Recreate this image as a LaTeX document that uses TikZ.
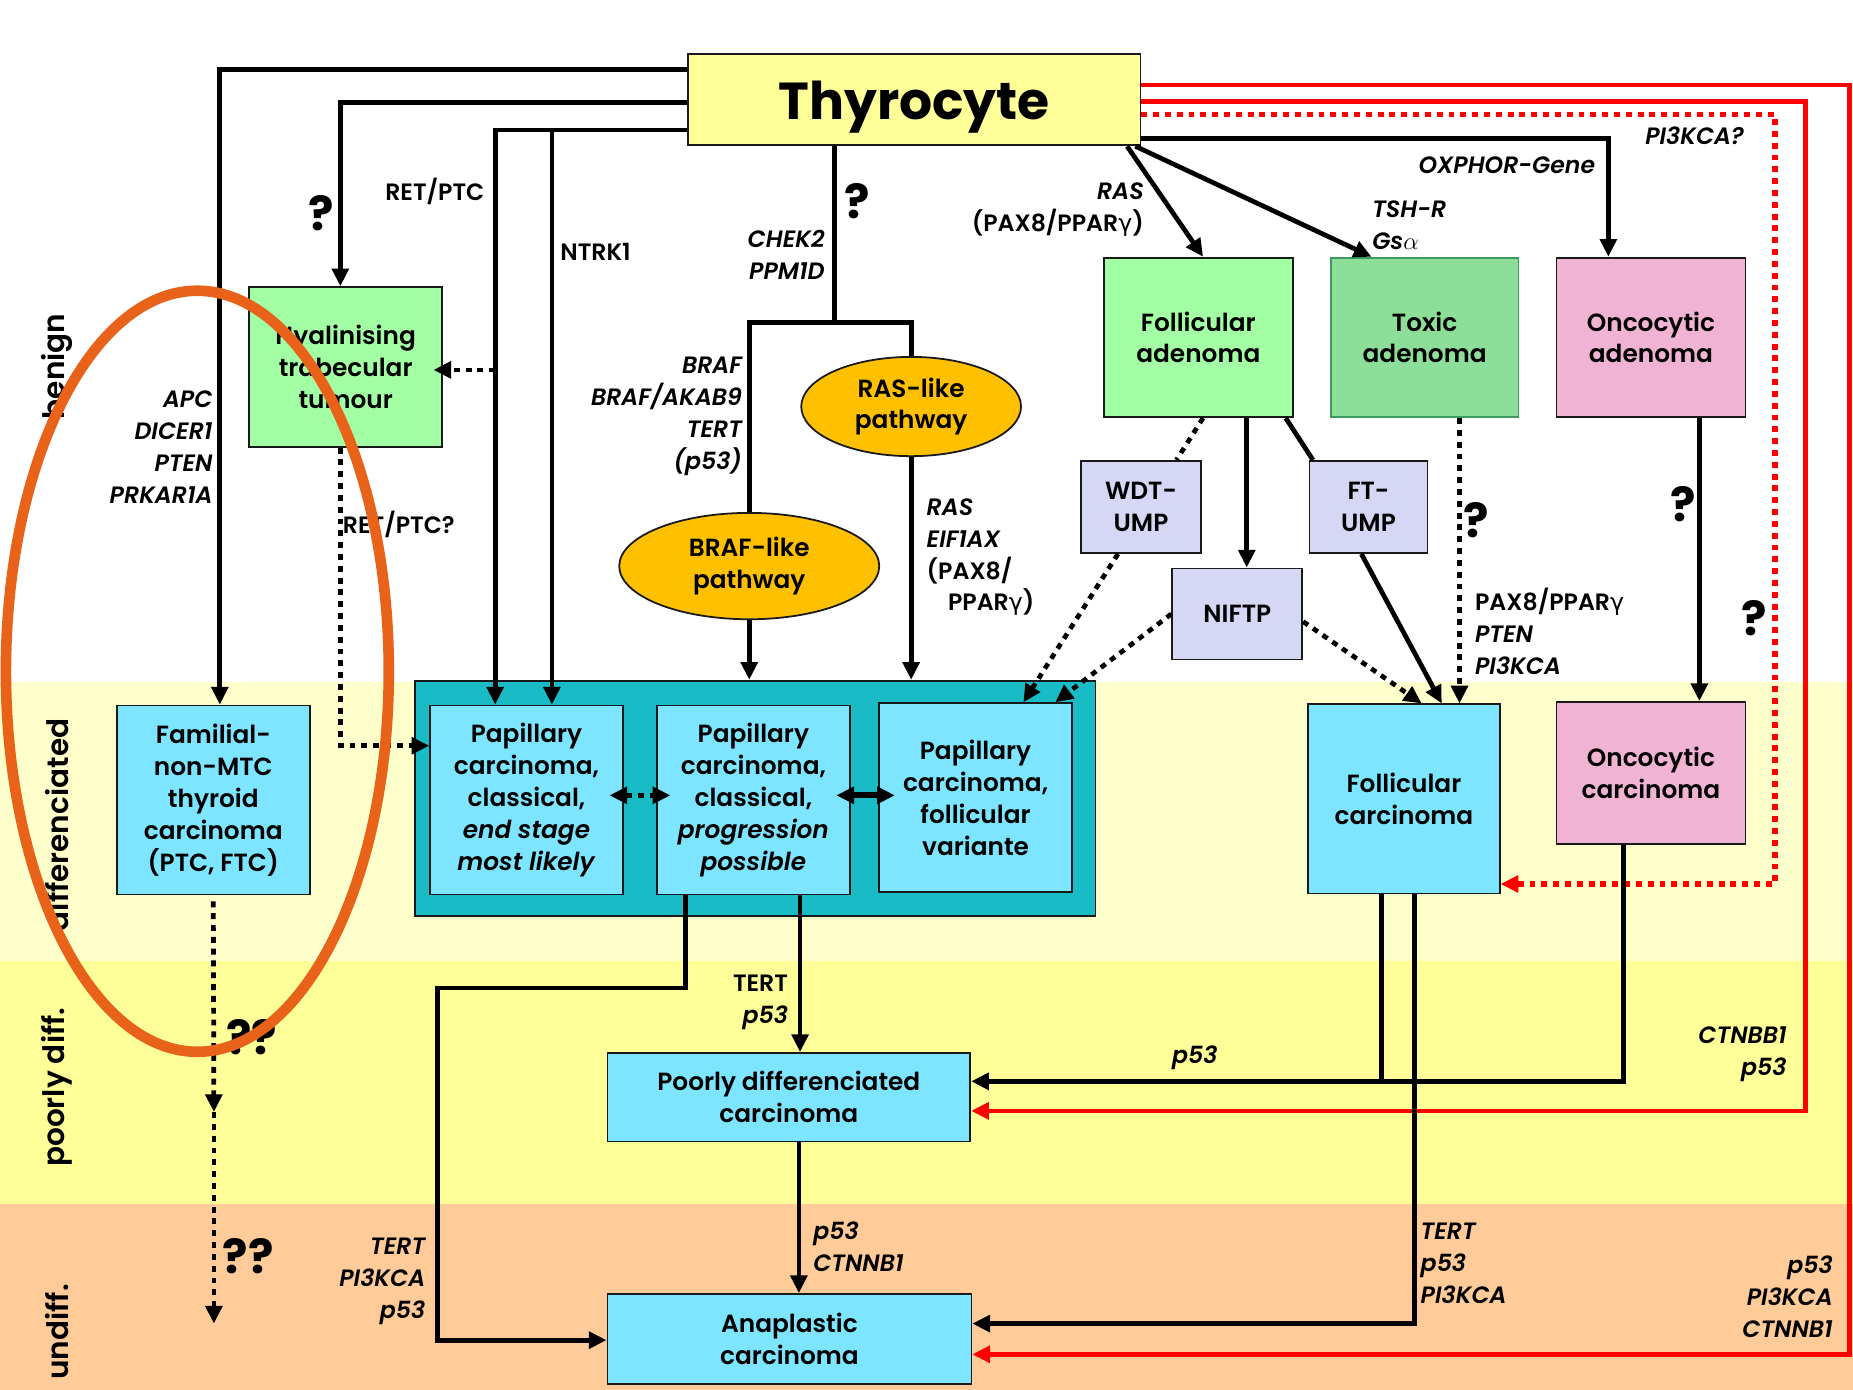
\documentclass[tikz,border=0pt]{standalone}
\usepackage{fontspec}
\setmainfont{Poppins}[UprightFont=* SemiBold, ItalicFont=* SemiBold Italic, BoldFont=* Bold, BoldItalicFont=* Bold Italic]
\newfontfamily\grk{DejaVu Sans}[BoldFont={DejaVu Sans Bold}]
\usetikzlibrary{arrows.meta,shapes.geometric}

\definecolor{bandA}{HTML}{FFFFCC}
\definecolor{bandB}{HTML}{FFFF99}
\definecolor{bandC}{HTML}{FFCC99}
\definecolor{thyfill}{HTML}{FFFF99}
\definecolor{greenA}{HTML}{A3FFA3}
\definecolor{greenB}{HTML}{8DDE98}
\definecolor{greenBline}{HTML}{3C9A62}
\definecolor{pinkA}{HTML}{F0B3D3}
\definecolor{lav}{HTML}{D6D6F5}
\definecolor{cyanA}{HTML}{7DE5FF}
\definecolor{tealA}{HTML}{19BCC6}
\definecolor{gold}{HTML}{FFC000}
\definecolor{ring}{HTML}{E8621A}
\definecolor{redA}{HTML}{FF0000}

\newcommand\gam{{\grk γ}}
\newcommand\boxfont{\fontsize{21}{27}\selectfont}
\newcommand\lblfont{\fontsize{20}{27}\selectfont}
\newcommand\qfont{\bfseries\fontsize{40}{40}\selectfont}

\begin{document}
\begin{tikzpicture}[x=1pt,y=-1pt,
  >={Triangle[length=15pt,width=14pt]},
  box/.style={draw=black!90, line width=1.5pt, inner sep=0pt, align=center, font=\boxfont},
  pathway/.style={ellipse, draw=black!90, line width=1.5pt, fill=gold, inner sep=0pt, align=center, font=\boxfont},
  conn/.style={line width=4pt},
  dconn/.style={line width=4pt, dash pattern=on 5pt off 5pt},
  redconn/.style={line width=4pt, draw=redA},
  reddot/.style={line width=4.5pt, draw=redA, dash pattern=on 5pt off 5pt},
  lbl/.style={inner sep=0pt, font=\lblfont},
  bandlbl/.style={inner sep=0pt, rotate=90, font=\fontsize{25}{25}\selectfont},
  qm/.style={inner sep=0pt, font=\qfont}]

\useasboundingbox (0,0) rectangle (1568,1176);

% stage bands
\fill[white] (0,0) rectangle (1568,577);
\fill[bandA] (0,577) rectangle (1568,813);
\fill[bandB] (0,813) rectangle (1568,1019);
\fill[bandC] (0,1019) rectangle (1568,1176);

\node[bandlbl] (sb1) at (48,310) {benign};
\node[bandlbl] (sb2) at (48,698) {differenciated};
\node[bandlbl] (sb3) at (48,920) {poorly diff.};
\node[bandlbl] (sb4) at (48,1127) {undiff.};

% entities
\node[box, fill=thyfill, minimum width=383pt, minimum height=77pt, text depth=0pt, font=\bfseries\fontsize{44}{50}\selectfont] (thy) at (773.5,84.5) {Thyrocyte};
\node[box, fill=greenA, minimum width=163pt, minimum height=135pt] (hyal) at (292.5,310.5) {Hyalinising\\trabecular\\tumour};
\node[box, fill=cyanA, minimum width=163pt, minimum height=160pt] (fam) at (180.5,677) {Familial-\\non-MTC\\thyroid\\carcinoma\\(PTC, FTC)};
\node[box, fill=tealA, minimum width=576pt, minimum height=199pt] (grp) at (639,675.5) {};
\node[box, fill=cyanA, minimum width=163pt, minimum height=160pt] (pap1) at (445.5,677) {Papillary\\carcinoma,\\classical,\\\textit{end stage}\\\textit{most likely}};
\node[box, fill=cyanA, minimum width=163pt, minimum height=160pt] (pap2) at (637.5,677) {Papillary\\carcinoma,\\classical,\\\textit{progression}\\\textit{possible}};
\node[box, fill=cyanA, minimum width=163pt, minimum height=160pt] (pap3) at (825.5,675) {Papillary\\carcinoma,\\follicular\\variante};
\node[box, fill=greenA, minimum width=160pt, minimum height=135pt] (fad) at (1014,285.5) {Follicular\\adenoma};
\node[box, fill=greenB, draw=greenBline, minimum width=159pt, minimum height=135pt] (tox) at (1205.5,285.5) {Toxic\\adenoma};
\node[box, fill=pinkA, minimum width=160pt, minimum height=135pt] (oad) at (1397,285.5) {Oncocytic\\adenoma};
\node[box, fill=lav, minimum width=101pt, minimum height=78pt] (wdt) at (965.5,429) {WDT-\\UMP};
\node[box, fill=lav, minimum width=100pt, minimum height=78pt] (ftu) at (1158,429) {FT-\\UMP};
\node[box, fill=lav, minimum width=110pt, minimum height=77pt] (nif) at (1047,519.5) {NIFTP};
\node[box, fill=cyanA, minimum width=162pt, minimum height=160pt] (fca) at (1188,676) {Follicular\\carcinoma};
\node[box, fill=pinkA, minimum width=160pt, minimum height=120pt] (oca) at (1397,654) {Oncocytic\\carcinoma};
\node[box, fill=cyanA, minimum width=307pt, minimum height=75pt] (pdc) at (667.5,928.5) {Poorly differenciated\\carcinoma};
\node[box, fill=cyanA, minimum width=308pt, minimum height=76pt] (ana) at (668,1133) {Anaplastic\\carcinoma};
\node[pathway, minimum width=186pt, minimum height=84pt] (ras) at (771,344) {RAS-like\\pathway};
\node[pathway, minimum width=220pt, minimum height=90pt] (braf) at (634,479) {BRAF-like\\pathway};

% red routes on the right
\draw[redconn,->] (thy.east |- 0,72) -| (1565,1146) -- (ana.east |- 0,1146);
\draw[redconn,->] (thy.east |- 0,86) -| (1528,940) -- (pdc.east |- 0,940);
\draw[reddot,->] (thy.east |- 0,97) -| (1502,748) -- (fca.east |- 0,748);

% routes on the left
\draw[conn,->] (thy.west |- 0,59) -| (fam.north -| 186,0);
\draw[conn,->] (thy.west |- 0,87) -| (hyal.north -| 288,0);
\draw[conn,->] (thy.west |- 0,110) -| (pap1.north -| 419,0);
\coordinate (ntrk) at (467,110);
\draw[conn,->] (ntrk) -- (pap1.north -| ntrk);
\coordinate (hyt) at (419,313);
\draw[dconn,->,shorten >=-8pt] (hyt) -- (hyal.east |- hyt);
\draw[dconn,->] (hyal.south -| 288,0) |- (pap1.west |- 0,631);

% pathways
\coordinate (chk) at (706,273);
\draw[conn] (thy.south -| chk) -- (chk);
\draw[conn] (braf.north) -- (braf.north |- chk) -- (ras.north |- chk) -- (ras.north);
\draw[conn,->] (braf.south) -- (braf.south |- grp.north);
\draw[conn,->] (ras.south) -- (ras.south |- grp.north);
\draw[dconn,<->,shorten <=-12pt,shorten >=-12pt] (pap1.east |- 0,673) -- (pap2.west |- 0,673);
\draw[conn,<->,line width=5pt,shorten <=-12pt,shorten >=-14pt] (pap2.east |- 0,673) -- (pap3.west |- 0,673);

% follicular branch
\draw[conn,->] (thy.east |- 0,117) -| (oad.north -| 1361,0);
\draw[conn,->] ([xshift=-12pt]thy.south east) -- ([xshift=4pt]fad.north);
\draw[conn,->] ([xshift=-5pt]thy.south east) -- ([xshift=-45pt]tox.north);
\draw[dconn] ([xshift=4pt]fad.south) -- ([xshift=30pt]wdt.north);
\draw[conn,->] (fad.south -| 1055,0) -- (nif.north -| 1055,0);
\draw[conn] (fad.south -| 1088,0) -- (ftu.north -| 1111,0);
\draw[dconn,->] (wdt.south -| 946,0) -- (pap3.north -| 866,0);
\draw[dconn,->] (nif.west) -- (pap3.north -| 893,0);
\draw[dconn,->] (nif.east |- 0,526) -- (fca.north -| 1203,0);
\draw[conn,->] (ftu.south -| 1152,0) -- (fca.north -| 1220,0);
\draw[dconn,->] (tox.south -| 1235,0) -- (fca.north -| 1235,0);
\draw[conn,->] (oad.south -| 1438,0) -- (oca.north -| 1438,0);

% progression to poorly differentiated and anaplastic
\coordinate (fj) at (1169,915);
\draw[conn,->] (oca.south -| 1374,0) |- (pdc.east |- fj);
\draw[conn] (fca.south -| fj) -- (fj);
\draw[conn,->] (fca.south -| 1197,0) |- (ana.east |- 0,1120);
\draw[conn,->] (pap2.south -| 580,0) |- (370,836) |- (ana.west |- 0,1134);
\draw[conn,->] (pap2.south -| 677,0) -- (pdc.north -| 677,0);
\draw[conn,->] (pdc.south -| 676,0) -- (ana.north -| 676,0);
\coordinate (f1) at (181,941);
\coordinate (f2) at (181,1120);
\draw[dconn,->] ([yshift=-5pt]fam.south) -- (f1);
\draw[dconn,->] (f1) -- (f2);

% gene labels
\node[lbl, anchor=east] (l1) at (410,162) {RET/PTC};
\node[lbl, anchor=west] (l2) at (474,213) {NTRK1};
\node[lbl, anchor=east, align=right] (l3) at (180,378.5) {\itshape APC\\\itshape DICER1\\\itshape PTEN\\\itshape PRKAR1A};
\node[lbl, anchor=west] (l4) at (290,444) {RET/PTC?};
\node[lbl, anchor=east, align=right] (l5) at (698,216) {\itshape CHEK2\\\itshape PPM1D};
\node[lbl, anchor=east, align=right] (l6) at (628,352.5) {\itshape BRAF\\\itshape BRAF/AKAB9\\\itshape TERT\\\itshape (p53)};
\node[lbl, anchor=west, align=left] (l7) at (784,471.5) {\itshape RAS\\\itshape EIF1AX\\(PAX8/\\\hspace*{18pt}PPAR\gam)};
\node[lbl, anchor=east, align=right] (l8) at (968,177) {\itshape RAS\\(PAX8/PPAR\gam)};
\node[lbl, anchor=west, align=left] (l9) at (1161,190.5) {\itshape TSH-R\\\itshape Gs$\alpha$};
\node[lbl, anchor=east] (l10) at (1350,140) {\itshape OXPHOR-Gene};
\node[lbl, anchor=west] (l11) at (1392,115) {\itshape PI3KCA?};
\node[lbl, anchor=west, align=left] (l12) at (1248,534.5) {PAX8/PPAR\gam\\\itshape PTEN\\\itshape PI3KCA};
\node[lbl, anchor=east, align=right] (l13) at (667,848.5) {TERT\\\itshape p53};
\node[lbl] (l14) at (1011,895) {\itshape p53};
\node[lbl, anchor=east, align=right] (l15) at (1512,892) {\itshape CTNBB1\\\itshape p53};
\node[lbl, anchor=west, align=left] (l16) at (688,1055) {\itshape p53\\\itshape CTNNB1};
\node[lbl, anchor=east, align=right] (l17) at (360,1084.5) {\itshape TERT\\\itshape PI3KCA\\\itshape p53};
\node[lbl, anchor=west, align=left] (l18) at (1202,1069) {\itshape TERT\\\itshape p53\\\itshape PI3KCA};
\node[lbl, anchor=east, align=right] (l19) at (1551,1097.5) {\itshape p53\\\itshape PI3KCA\\\itshape CTNNB1};

% open questions
\node[qm] (q1) at (272,180) {?};
\node[qm] (q2) at (725,170) {?};
\node[qm] (q3) at (1249,440) {?};
\node[qm] (q4) at (1424,427) {?};
\node[qm] (q5) at (1484,523) {?};
\node[qm] (q6) at (213,878) {??};
\node[qm] (q7) at (210,1063) {??};

% highlight ring
\draw[ring, line width=9pt] (167,568) ellipse [x radius=162, y radius=322];

\end{tikzpicture}
\end{document}
